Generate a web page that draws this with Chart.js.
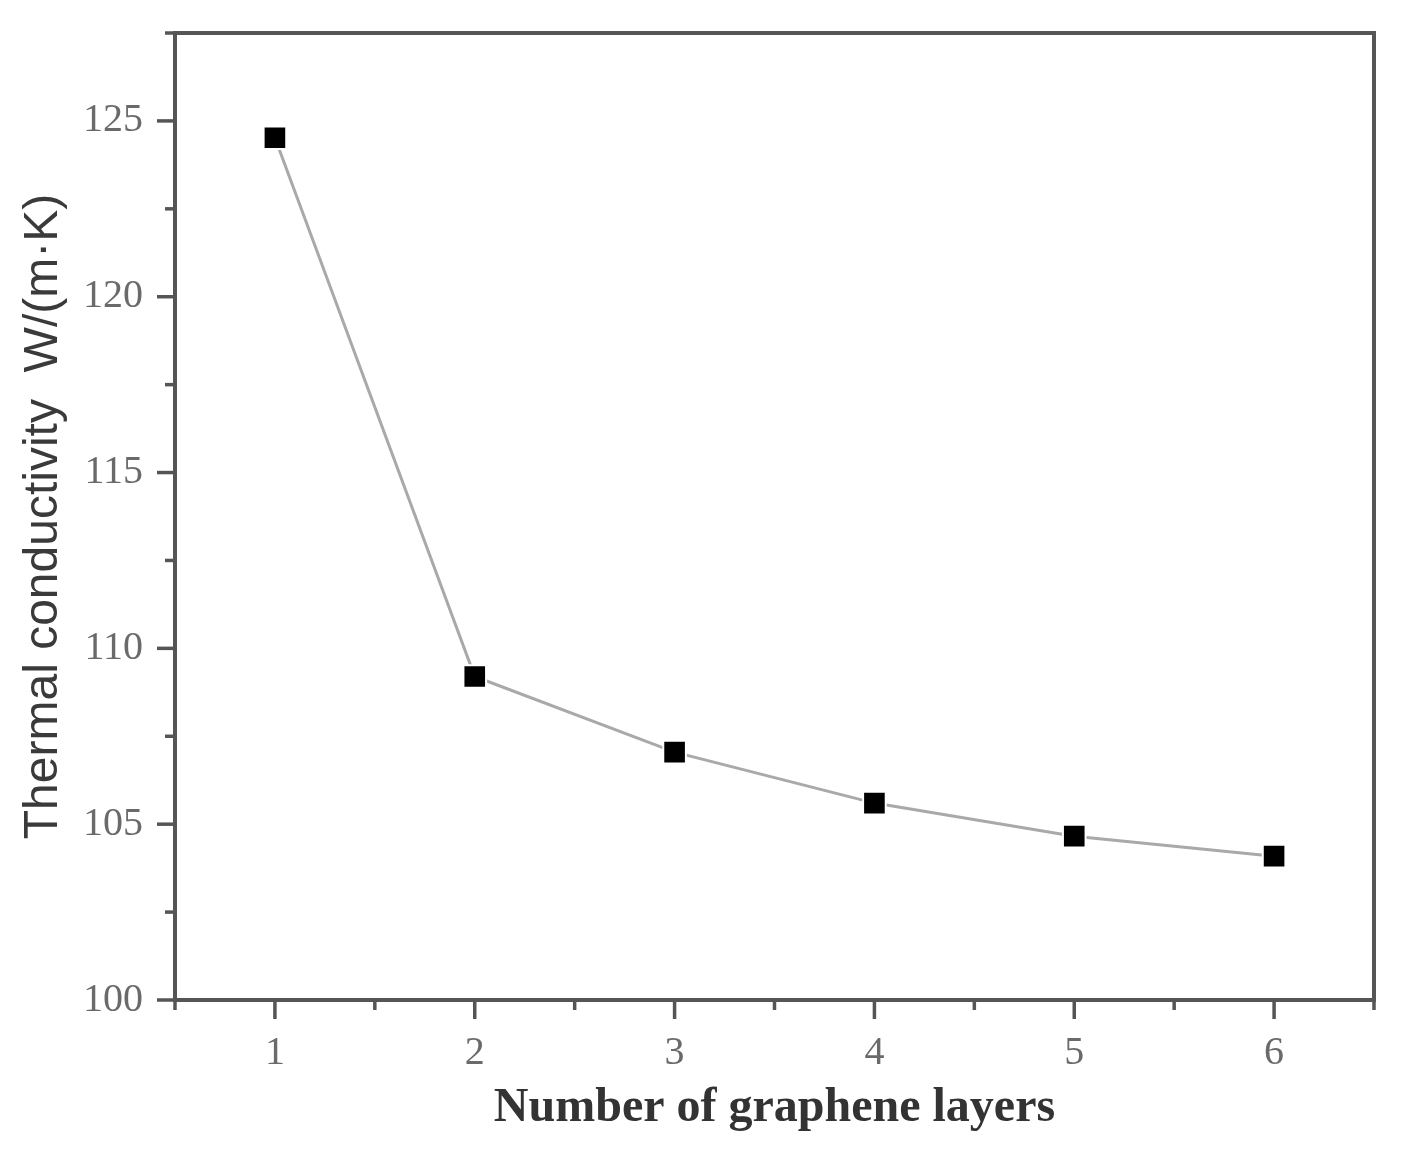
<!DOCTYPE html>
<html>
<head>
<meta charset="utf-8">
<title>Thermal conductivity vs number of graphene layers</title>
<style>
    body { margin: 0; background: #ffffff; }
    #wrap { width: 1404px; height: 1165px; position: relative; }
</style>
</head>
<body>
<div id="wrap">
    <canvas id="myChart1"></canvas>
</div>

<script src="https://cdn.jsdelivr.net/npm/chart.js@4.4.0/dist/chart.umd.min.js"></script>
<script>
    // data
    const layers = [1, 2, 3, 4, 5, 6]
    const conductivity = [124.52, 109.2, 107.05, 105.6, 104.66, 104.09]

    const xMin = 0.5, xMax = 6.5, xStep = 0.5
    const yMin = 100, yMax = 127.5, yStep = 2.5

    const axisColor = '#555555'

    // tick marks (major + minor) drawn outward, plus top/right frame
    const frameTicks = {
        id: 'frameTicks',
        afterDraw(chart) {
            const ctx = chart.ctx
            const a = chart.chartArea
            const xs = chart.scales.x
            const ys = chart.scales.y
            ctx.save()
            ctx.strokeStyle = axisColor
            ctx.lineWidth = 4
            ctx.lineCap = 'butt'
            ctx.beginPath()
            ctx.moveTo(a.left - 2, a.top)
            ctx.lineTo(a.right, a.top)
            ctx.lineTo(a.right, a.bottom + 2)
            ctx.stroke()

            ctx.lineWidth = 3.5
            xs.ticks.forEach(t => {
                const px = xs.getPixelForValue(t.value)
                const major = Number.isInteger(t.value)
                ctx.beginPath()
                ctx.moveTo(px, a.bottom)
                ctx.lineTo(px, a.bottom + (major ? 19 : 10))
                ctx.stroke()
            })
            ys.ticks.forEach(t => {
                const py = ys.getPixelForValue(t.value)
                const major = t.value % 5 === 0
                ctx.beginPath()
                ctx.moveTo(a.left, py)
                ctx.lineTo(a.left - (major ? 18 : 10), py)
                ctx.stroke()
            })
            ctx.restore()
        }
    }

    const ctx1 = document.getElementById('myChart1').getContext('2d')
    const points = layers.map((l, i) => ({x: l, y: conductivity[i]}))

    const mychart = new Chart(ctx1, {
        type: 'line',
        data: {
            datasets: [{
                data: points,
                borderColor: '#a9a9a9',
                borderWidth: 3,
                tension: 0,
                pointStyle: 'rect',
                pointRadius: 16,
                pointHoverRadius: 16,
                pointBackgroundColor: '#000000',
                pointBorderColor: '#ffffff',
                pointBorderWidth: 2
            }]
        },
        options: {
            responsive: true,
            maintainAspectRatio: false,
            animation: false,
            events: [],
            layout: { padding: { top: 33, right: 30, left: 0, bottom: 0 } },
            plugins: {
                legend: { display: false },
                tooltip: { enabled: false }
            },
            scales: {
                x: {
                    type: 'linear',
                    min: xMin,
                    max: xMax,
                    afterFit: s => { s.height = 165; s.paddingLeft = 0; s.paddingRight = 0 },
                    grid: { display: true, drawOnChartArea: false, drawTicks: false },
                    border: { display: true, color: axisColor, width: 4 },
                    ticks: {
                        stepSize: xStep,
                        autoSkip: false,
                        maxRotation: 0,
                        padding: 29,
                        color: '#6a6a6a',
                        font: { family: '"Liberation Serif", "DejaVu Serif", serif', size: 40 },
                        callback: v => Number.isInteger(v) ? String(v) : ''
                    },
                    title: {
                        display: true,
                        text: 'Number of graphene layers',
                        color: '#333333',
                        padding: 28,
                        font: { family: '"Liberation Serif", "DejaVu Serif", serif', size: 48, weight: 'bold' }
                    }
                },
                y: {
                    type: 'linear',
                    min: yMin,
                    max: yMax,
                    afterFit: s => { s.width = 175; s.paddingTop = 0; s.paddingBottom = 0 },
                    grid: { display: true, drawOnChartArea: false, drawTicks: false },
                    border: { display: true, color: axisColor, width: 4 },
                    ticks: {
                        stepSize: yStep,
                        autoSkip: false,
                        padding: 32,
                        color: '#6a6a6a',
                        font: { family: '"Liberation Serif", "DejaVu Serif", serif', size: 40 },
                        callback: v => (v % 5 === 0) ? String(v) : ''
                    },
                    title: {
                        display: true,
                        text: 'Thermal conductivity  W/(m·K)',
                        color: '#3a3a3a',
                        padding: 15,
                        font: { family: '"Liberation Sans", Arial, sans-serif', size: 48 }
                    }
                }
            }
        },
        plugins: [frameTicks]
    })
</script>
</body>
</html>
